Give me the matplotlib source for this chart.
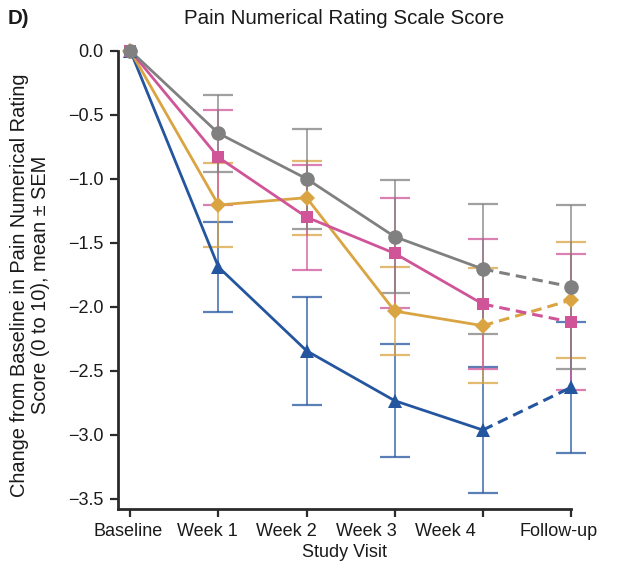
import matplotlib.pyplot as plt
import matplotlib.transforms as mtransforms
import numpy as np

plt.rcParams['font.family'] = ['Liberation Sans', 'DejaVu Sans']

# Werte
visits = ['Baseline', 'Week 1', 'Week 2', 'Week 3', 'Week 4', 'Follow-up']

gray_mean = [0.0, -0.645, -1.0, -1.453, -1.705, -1.844]
gray_sem = [0.0, 0.30, 0.39, 0.44, 0.51, 0.64]

pink_mean = [0.0, -0.833, -1.30, -1.583, -1.979, -2.12]
pink_sem = [0.0, 0.37, 0.41, 0.43, 0.51, 0.53]

orange_mean = [0.0, -1.205, -1.148, -2.034, -2.148, -1.948]
orange_sem = [0.0, 0.33, 0.29, 0.345, 0.45, 0.45]

blue_mean = [0.0, -1.69, -2.344, -2.734, -2.963, -2.63]
blue_sem = [0.0, 0.35, 0.42, 0.44, 0.495, 0.51]

series = [
    (blue_mean, blue_sem, '#24559f', '^', 9.5),
    (orange_mean, orange_sem, '#d9a441', 'D', 8.5),
    (pink_mean, pink_sem, '#cf5598', 's', 9),
    (gray_mean, gray_sem, '#808080', 'o', 10.5),
]

fig = plt.figure(figsize=(6.17, 5.70), dpi=100)
ax = fig.add_axes([0.1908, 0.107, 0.7346, 0.804])

x = np.arange(len(visits))
for mean, sem, col, mk, ms in series:
    mean = np.array(mean)
    sem = np.array(sem)
    # Fehlerbalken (ohne Baseline)
    ax.errorbar(x[1:], mean[1:], yerr=sem[1:], fmt='none', ecolor=col,
                alpha=0.75, elinewidth=1.3, capsize=10.5, capthick=1.6,
                clip_on=False, zorder=2)
    # durchgezogen bis Week 4, gestrichelt bis Follow-up
    ax.plot(x[:5], mean[:5], color=col, lw=2, zorder=3, clip_on=False)
    ax.plot(x[4:], mean[4:], color=col, lw=2.2, ls=(0, (3.5, 2)), zorder=3,
            clip_on=False)
    ax.plot(x, mean, ls='none', marker=mk, ms=ms, color=col,
            markeredgewidth=0, zorder=4, clip_on=False)

ax.set_xlim(-0.143, 5)
ax.set_ylim(-3.58, 0)
yt = np.arange(0, -3.51, -0.5)
ax.set_yticks(yt)
ax.set_yticklabels([f'{v:.1f}'.replace('-', '\u2212') for v in yt])
ax.set_xticks(x)
ax.set_xticklabels(visits)

for s in ['top', 'right']:
    ax.spines[s].set_visible(False)
for s in ['left', 'bottom']:
    ax.spines[s].set_linewidth(2)
    ax.spines[s].set_color('#2b2b2b')
ax.tick_params(axis='both', length=6, width=1.6, color='#2b2b2b',
               labelsize=13, labelcolor='#1a1a1a', pad=4)

# Im Original sitzen die Beschriftungen nicht mittig unter den Ticks
shift_px = [-2, -11, -20, -28, -37, -12]
for lbl, dx in zip(ax.get_xticklabels(), shift_px):
    lbl.set_transform(lbl.get_transform() +
                      mtransforms.ScaledTranslation(dx / 100, 0, fig.dpi_scale_trans))

ax.set_xlabel('Study Visit', fontsize=13, color='#1a1a1a', labelpad=3)
fig.text(30 / 617, 0.5,
         'Change from Baseline in Pain Numerical Rating\nScore (0 to 10), mean \u00b1 SEM',
         rotation=90, ha='center', va='center', fontsize=14.4,
         color='#1a1a1a', linespacing=1.15, multialignment='center')

fig.text(0.557, 0.968, 'Pain Numerical Rating Scale Score', ha='center',
         va='center', fontsize=14.8, color='#1a1a1a')
fig.text(0.013, 0.968, 'D)', ha='left', va='center', fontsize=14.8,
         fontweight='bold', color='#1a1a1a')

fig.savefig('out.png', dpi=100)
